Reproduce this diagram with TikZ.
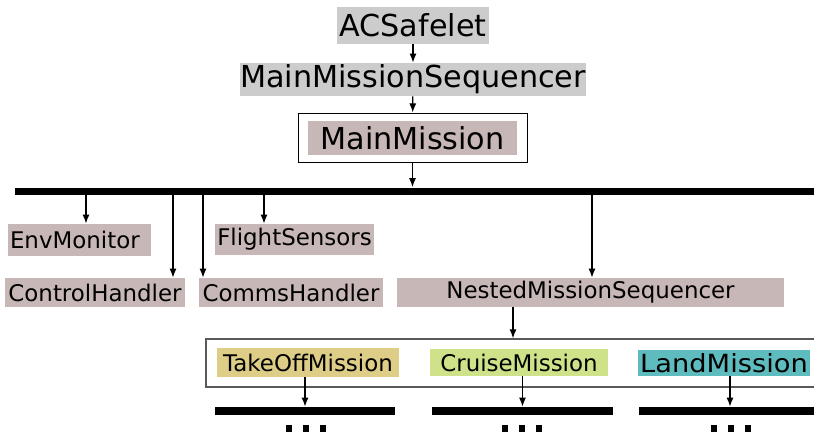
\documentclass[tikz,border=0pt]{standalone}
\usepackage{fontspec}
\setmainfont{DejaVu Sans}
\usetikzlibrary{arrows.meta}
\definecolor{boxgrey}{RGB}{204,204,204}
\definecolor{mauve}{RGB}{200,183,183}
\definecolor{takeoffcol}{RGB}{222,205,135}
\definecolor{cruisecol}{RGB}{205,226,137}
\definecolor{landcol}{RGB}{95,188,190}
\def\unitpx{0.025cm}
\begin{document}
\begin{tikzpicture}[x=0.025cm,y=-0.025cm,
        big/.style={font=\fontsize{21.5}{25}\selectfont, inner sep=0pt},
        small/.style={font=\fontsize{16.3}{19}\selectfont, inner sep=0pt, fill=mauve},
        bar/.style={fill=black, inner sep=0pt, minimum height=8*\unitpx},
        link/.style={-{Latex[length=6.5pt,width=5pt]}, line width=0.9pt}]
        \useasboundingbox (0,0) rectangle (814,434);
        \node[big, fill=boxgrey, minimum width=152*\unitpx, minimum height=37*\unitpx] (acs) at (413,25.5) {ACSafelet};
        \node[big, fill=boxgrey, minimum width=346*\unitpx, minimum height=33*\unitpx] (mms) at (413,79.5) {MainMissionSequencer};
        \node[draw, line width=0.7pt, minimum width=229*\unitpx, minimum height=49*\unitpx] (mmbox) at (412.5,137.5) {};
        \node[big, fill=mauve, minimum width=209*\unitpx, minimum height=34*\unitpx] (mm) at (412.5,138) {MainMission};
        \node[bar, minimum width=799*\unitpx, minimum height=7*\unitpx] (bus) at (414.5,191) {};
        \draw[link] (acs) -- (mms);
        \draw[link] (mms) -- (mmbox);
        \draw[link] (mmbox.south) -- (mmbox.south |- bus.north);
        % handlers hanging off the mission bus
        \node[small, inner xsep=2*\unitpx, text width=139*\unitpx, align=left, minimum height=32*\unitpx] (env) at (79.5,240) {EnvMonitor};
        \node[small, minimum width=159*\unitpx, minimum height=31*\unitpx] (fs) at (294.5,239.5) {FlightSensors};
        \node[small, minimum width=180*\unitpx, minimum height=29*\unitpx] (ctl) at (95,292.5) {ControlHandler};
        \node[small, minimum width=184*\unitpx, minimum height=29*\unitpx] (com) at (291,292.5) {CommsHandler};
        \node[small, minimum width=387*\unitpx, minimum height=29*\unitpx] (nms) at (590.5,292.5) {NestedMissionSequencer};
        \draw[link] (86,0 |- bus.south) -- (86,0 |- env.north);
        \draw[link] (173,0 |- bus.south) -- (173,0 |- ctl.north);
        \draw[link] (203,0 |- bus.south) -- (203,0 |- com.north);
        \draw[link] (264,0 |- bus.south) -- (264,0 |- fs.north);
        \draw[link] (592,0 |- bus.south) -- (592,0 |- nms.north);
        % nested missions
        \node[draw=black!65, line width=0.8pt, minimum width=614*\unitpx, minimum height=48*\unitpx] (nest) at (513,363) {};
        \draw[link] (nest.north |- nms.south) -- (nest.north);
        \node[small, fill=takeoffcol, minimum width=182*\unitpx, minimum height=29*\unitpx] (tom) at (308,362.5) {TakeOffMission};
        \node[small, fill=cruisecol, minimum width=178*\unitpx, minimum height=27*\unitpx] (crm) at (519,362.5) {CruiseMission};
        \node[small, fill=landcol, font=\fontsize{17.8}{21}\selectfont, minimum width=172*\unitpx, minimum height=26*\unitpx] (lam) at (724,363) {\scalebox{1.09}[1]{LandMission}};
        \node[bar, minimum width=180*\unitpx] (tob) at (305,411) {};
        \node[bar, minimum width=181*\unitpx] (crb) at (522.5,411) {};
        \node[bar, minimum width=175*\unitpx] (lab) at (726.5,411) {};
        \draw[link] (tob.north |- tom.south) -- (tob.north);
        \draw[link] (crb.north |- crm.south) -- (crb.north);
        \draw[link] (730,0 |- lam.south) -- (730,0 |- lab.north);
        \foreach \x in {289,306,323,505,522,539,714,731,748}
            \fill (\x-3,425) rectangle (\x+3,432);
    \end{tikzpicture}
\end{document}
